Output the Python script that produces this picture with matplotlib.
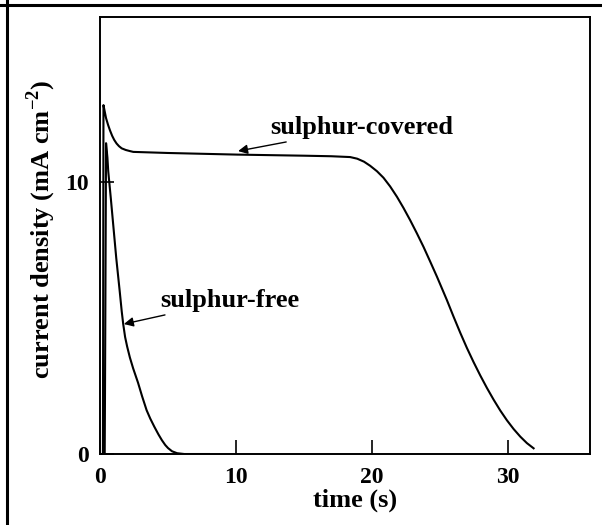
import numpy as np
import matplotlib
matplotlib.use("Agg")
import matplotlib.pyplot as plt
from matplotlib.lines import Line2D

# current transients (time in s, current in mA cm^-2)
t_covered = [0.0, 0.22, 0.24, 0.26, 0.35, 0.45, 0.6, 0.74, 0.9, 1.05, 1.22, 1.4, 1.6,
             1.9, 2.2, 2.45, 5.0, 10.1, 15.0, 17.0, 18.38, 18.9, 19.4, 19.85, 20.35,
             20.83, 21.32, 21.82, 22.3, 22.79, 23.28, 23.77, 24.26, 24.76, 25.1,
             25.49, 25.98, 26.47, 26.96, 27.45, 27.94, 28.43, 28.92, 29.41, 29.9,
             30.39, 30.88, 31.37, 31.86]
j_covered = [0.0, 0.0, 6.0, 12.83, 12.6, 12.35, 12.1, 11.9, 11.7, 11.55, 11.42, 11.32,
             11.24, 11.18, 11.14, 11.11, 11.07, 11.01, 10.97, 10.95, 10.92, 10.86,
             10.75, 10.6, 10.4, 10.16, 9.84, 9.46, 9.05, 8.6, 8.12, 7.62, 7.08, 6.52,
             6.12, 5.66, 5.05, 4.46, 3.9, 3.38, 2.89, 2.43, 2.0, 1.6, 1.24, 0.92,
             0.64, 0.4, 0.21]

t_free = [0.35, 0.37, 0.45, 0.55, 0.61, 0.8, 1.0, 1.2, 1.45, 1.6, 1.71, 1.85, 2.0,
          2.2, 2.44, 2.8, 3.1, 3.43, 3.7, 4.0, 4.3, 4.55, 4.8, 5.0, 5.3, 5.67, 6.2, 8.0]
j_free = [0.0, 2.0, 11.43, 10.9, 10.4, 9.4, 8.3, 7.2, 6.0, 5.25, 4.78, 4.3, 3.95,
          3.55, 3.15, 2.62, 2.12, 1.61, 1.3, 1.0, 0.72, 0.51, 0.33, 0.22, 0.1, 0.03,
          0.0, 0.0]

x_ticks = [0, 10, 20, 30]
y_ticks = [0, 10]

plt.rcParams.update({"font.family": "Liberation Serif", "font.weight": "bold",
                     "mathtext.fontset": "custom",
                     "mathtext.rm": "Liberation Serif:bold",
                     "mathtext.bf": "Liberation Serif:bold"})

fig = plt.figure(figsize=(6.02, 5.25), dpi=100)
ax = fig.add_axes([0.166, 0.1352, 0.814, 0.8324])

ax.plot(t_covered, j_covered, color="black", lw=1.5)
ax.plot(t_free, j_free, color="black", lw=1.5)

ax.set_xlim(0, 36)
ax.set_ylim(0, 16.07)
ax.set_xticks(x_ticks)
ax.set_yticks(y_ticks)
ax.tick_params(direction="in", length=10, width=1.2, labelsize=17, pad=9)
ax.tick_params(axis="y", pad=8)
for lab in ax.get_xticklabels() + ax.get_yticklabels():
    lab.set_fontweight("bold")
for s in ax.spines.values():
    s.set_linewidth(1.4)

ax.set_xlabel("time (s)", fontsize=19, fontweight="bold")
ax.xaxis.set_label_coords(0.52, -0.078)
ax.set_ylabel(r"current density (mA cm$^{-2}$)", fontsize=19, fontweight="bold")
ax.yaxis.set_label_coords(-0.086, 0.515)

arrow = dict(arrowstyle="-|>", color="black", lw=1.0, mutation_scale=14,
             shrinkA=0, shrinkB=0)
ax.annotate("sulphur-covered", xy=(10.15, 11.14), xytext=(12.5, 12.0),
            fontsize=19, fontweight="bold", va="center", ha="left",
            arrowprops=arrow)
ax.annotate("sulphur-free", xy=(1.76, 4.78), xytext=(4.4, 5.64),
            fontsize=19, fontweight="bold", va="center", ha="left",
            arrowprops=arrow)

# scan frame along the top and left edges
fig.add_artist(Line2D([0, 1], [1 - 5 / 525] * 2, color="black", lw=2.2))
fig.add_artist(Line2D([7 / 602] * 2, [0, 1], color="black", lw=2.2))

fig.savefig("out.png", dpi=100)
